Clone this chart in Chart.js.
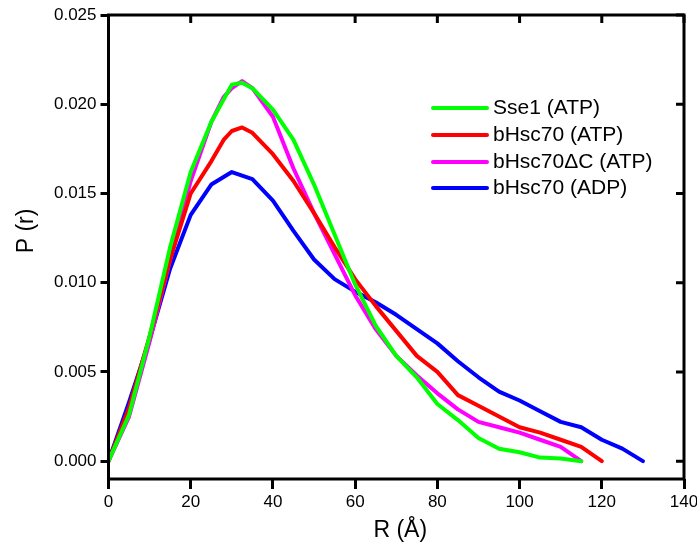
<!DOCTYPE html>
<html><head><meta charset="utf-8">
<script src="https://cdn.jsdelivr.net/npm/chart.js@4.4.1/dist/chart.umd.min.js"></script>
<style>html,body{margin:0;padding:0;background:#fff}#wrap{width:697px;height:546px}</style>
</head><body><div id="wrap"><canvas id="c" width="697" height="546"></canvas></div>
<script>
const seriesNames = ['Sse1 (ATP)', 'bHsc70 (ATP)', 'bHsc70\u0394C (ATP)', 'bHsc70 (ADP)'];
const seriesColors = ['#00ff00', '#ff0000', '#ff00ff', '#0000ff'];
const rSse1 = [0,5,10,15,20,25,30,32.5,35,40,45,50,55,60,65,70,75,80,85,90,95,100,105,110,115];
const pSse1 = [0,0.0026,0.0070,0.0120,0.0162,0.0190,0.0211,0.0212,0.0209,0.0197,0.0180,0.0155,0.0127,0.0099,0.0076,0.0059,0.0047,0.0032,0.0023,0.0013,0.0007,0.0005,0.0002,0.00015,0];
const rHscATP = [0,5,10,15,20,25,28,30,32.5,35,40,45,50,55,60,65,70,75,80,85,90,95,100,105,110,115,120];
const pHscATP = [0,0.0030,0.0070,0.0113,0.0150,0.0168,0.0180,0.0185,0.0187,0.0184,0.0172,0.0157,0.0139,0.0120,0.0102,0.0087,0.0073,0.0059,0.0050,0.0037,0.0031,0.0025,0.0019,0.0016,0.0012,0.0008,0];
const rHscDC = [0,5,10,15,20,25,28,30,32.5,35,40,45,50,55,60,65,70,75,80,85,90,95,100,105,110,115];
const pHscDC = [0,0.0025,0.0067,0.0113,0.0157,0.0190,0.0204,0.0209,0.0213,0.0209,0.0193,0.0164,0.0139,0.0116,0.0093,0.0074,0.0059,0.0048,0.0038,0.0029,0.0022,0.0019,0.0016,0.0012,0.0008,0];
const rHscADP = [0,5,10,15,20,25,30,35,40,45,50,55,60,65,70,75,80,85,90,95,100,105,110,115,120,125,130];
const pHscADP = [0,0.0033,0.0068,0.0108,0.0138,0.0155,0.0162,0.0158,0.0146,0.0129,0.0113,0.0102,0.0095,0.0089,0.0082,0.0074,0.0066,0.0056,0.0047,0.0039,0.0034,0.0028,0.0022,0.0019,0.0012,0.0007,0];
const xTicks = [0,20,40,60,80,100,120,140];
const yTicks = [0,0.005,0.010,0.015,0.020,0.025];
const xTitle = 'R (\u00c5)';
const yTitle = 'P (r)';

const toXY = (xs, ys) => xs.map((x, i) => ({x: x, y: ys[i]}));
const allR = [rSse1, rHscATP, rHscDC, rHscADP];
const allP = [pSse1, pHscATP, pHscDC, pHscADP];

const FONT = '"Liberation Sans", Arial, Helvetica, sans-serif';

const framePlugin = {
  id: 'frame',
  afterDatasetsDraw(chart) {
    const {ctx, chartArea: a, scales} = chart;
    ctx.save();
    ctx.strokeStyle = '#000';
    ctx.lineWidth = 3;
    ctx.lineCap = 'butt';
    ctx.strokeRect(a.left, a.top, a.right - a.left, a.bottom - a.top);
    ctx.beginPath();
    xTicks.forEach(v => {
      const px = scales.x.getPixelForValue(v);
      ctx.moveTo(px, a.top); ctx.lineTo(px, a.top + 8);
    });
    yTicks.forEach(v => {
      const py = scales.y.getPixelForValue(v);
      ctx.moveTo(a.right, py); ctx.lineTo(a.right - 8, py);
    });
    ctx.stroke();
    // legend
    const lx0 = 433, lx1 = 487, ys = [108, 135, 162, 188];
    chart.data.datasets.forEach((ds, i) => {
      ctx.strokeStyle = ds.borderColor;
      ctx.lineWidth = 4;
      ctx.lineCap = 'round';
      ctx.beginPath(); ctx.moveTo(lx0, ys[i]); ctx.lineTo(lx1, ys[i]); ctx.stroke();
      ctx.fillStyle = '#000';
      ctx.font = '21px ' + FONT;
      ctx.textBaseline = 'alphabetic';
      ctx.textAlign = 'left';
      ctx.fillText(ds.label, 493, ys[i] + 6);
    });
    // axis titles
    ctx.fillStyle = '#000';
    ctx.font = '23px ' + FONT;
    ctx.textAlign = 'center';
    ctx.textBaseline = 'alphabetic';
    ctx.fillText(xTitle, (a.left + a.right) / 2 + 4, 537);
    ctx.save();
    ctx.translate(33, 231);
    ctx.rotate(-Math.PI / 2);
    ctx.fillText(yTitle, 0, 0);
    ctx.restore();
    ctx.restore();
  }
};

new Chart(document.getElementById('c'), {
  type: 'line',
  data: {
    datasets: seriesNames.map((n, i) => ({
      label: n,
      data: toXY(allR[i], allP[i]),
      borderColor: seriesColors[i],
      backgroundColor: seriesColors[i],
      borderWidth: 4,
      pointRadius: 0,
      tension: 0,
      fill: false,
      borderJoinStyle: 'round',
      borderCapStyle: 'round'
    }))
  },
  options: {
    responsive: false,
    animation: false,
    devicePixelRatio: 1,
    layout: {padding: {top: 15, right: 13, left: 0, bottom: 0}},
    plugins: {legend: {display: false}, tooltip: {enabled: false}, title: {display: false}},
    scales: {
      x: {
        type: 'linear', min: 0, max: 140,
        afterBuildTicks: s => { s.ticks = xTicks.map(v => ({value: v})); },
        afterFit: s => { s.height = 67; s.paddingRight = 0; s.paddingLeft = 0; },
        grid: {drawOnChartArea: false, drawTicks: true, tickLength: 10, tickWidth: 3, tickColor: '#000'},
        border: {display: false},
        ticks: {color: '#000', font: {family: FONT, size: 17}, padding: 3, maxRotation: 0,
          callback: v => String(v)}
      },
      y: {
        type: 'linear', min: -0.001, max: 0.025,
        afterBuildTicks: s => { s.ticks = yTicks.map(v => ({value: v})); },
        afterFit: s => { s.width = 108.5; s.paddingTop = 0; s.paddingBottom = 0; },
        grid: {drawOnChartArea: false, drawTicks: true, tickLength: 8, tickWidth: 3, tickColor: '#000'},
        border: {display: false},
        ticks: {color: '#000', font: {family: FONT, size: 17}, padding: 4,
          callback: v => Number(v).toFixed(3)}
      }
    }
  },
  plugins: [framePlugin]
});
</script></body></html>
